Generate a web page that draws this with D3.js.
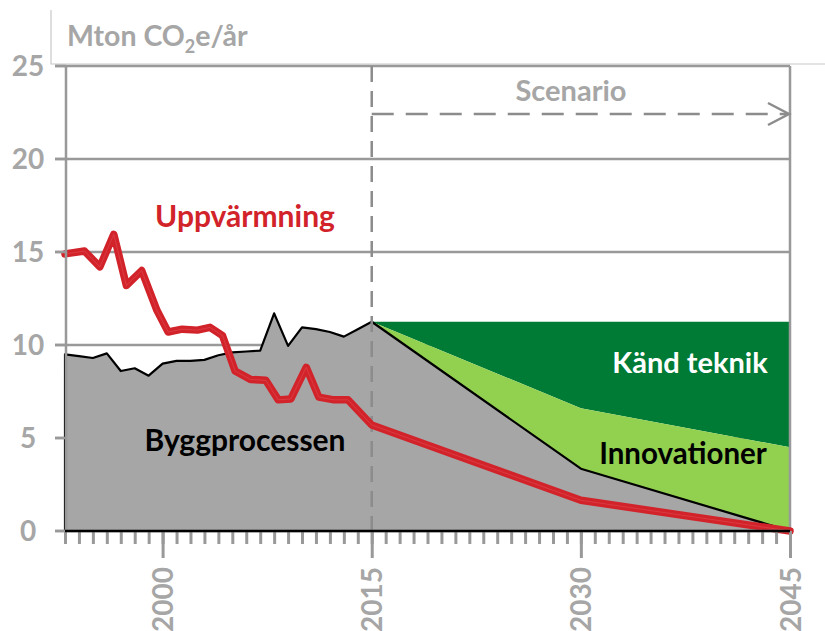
<!DOCTYPE html>
<html>
<head>
<meta charset="utf-8">
<script src="https://cdn.jsdelivr.net/npm/d3@7"></script>
<style>
body { margin: 0; background: #fff; }
text { font-family: Lato, "Open Sans", sans-serif; font-weight: bold; }
</style>
</head>
<body>
<div id="chart"></div>
<script>
// historic construction emissions (Byggprocessen), Mton CO2e
const histYears = [1993, 1994, 1995, 1996, 1997, 1998, 1999, 2000, 2001, 2002, 2003, 2004,
    2005, 2006, 2007, 2008, 2009, 2010, 2011, 2012, 2013, 2014, 2015]
const byggHist = [9.5, 9.4, 9.3, 9.55, 8.6, 8.75, 8.35, 9.0, 9.15, 9.15, 9.2, 9.45,
    9.6, 9.65, 9.7, 11.7, 9.95, 10.95, 10.85, 10.7, 10.45, 10.85, 11.25]

// scenario part
const scenYears = [2015, 2030, 2045]
const byggScen = [11.25, 3.35, 0]
const innovTop = [11.25, 6.6, 4.5]
const kandTop = [11.25, 11.25, 11.25]

// heating line (Uppvärmning)
const redYears = [1993, 1994.4, 1995.5, 1996.5, 1997.4, 1998.5, 1999.6, 2000.4, 2001.4, 2002.5,
    2003.4, 2004.3, 2005.2, 2006.3, 2007.4, 2008.3, 2009.2, 2010.3, 2011.2, 2012.3, 2013.3,
    2015, 2030, 2045]
const redValues = [14.9, 15.05, 14.2, 15.95, 13.2, 14.0, 11.85, 10.7, 10.85, 10.8,
    10.95, 10.5, 8.6, 8.15, 8.1, 7.05, 7.1, 8.8, 7.2, 7.05, 7.05,
    5.7, 1.65, 0]

const yTicks = [0, 5, 10, 15, 20, 25]
const majorYears = [2000, 2015, 2030, 2045]
const minorYears = [1993, 1994, 1995, 1996, 1997, 1998, 1999, 2000, 2001, 2002, 2003, 2004, 2005,
    2006, 2007, 2008, 2009, 2010, 2011, 2012, 2013, 2014, 2015, 2016, 2017, 2018, 2019, 2020,
    2021, 2022, 2023, 2024, 2025, 2026, 2027, 2028, 2029, 2030, 2031, 2032, 2033, 2034, 2035,
    2036, 2037, 2038, 2039, 2040, 2041, 2042, 2043, 2044, 2045]

const width = 825, height = 631
const greyText = "#a6a6a6", gridCol = "#999999"

const svg = d3.select("#chart").append("svg")
    .attr("width", width).attr("height", height)

const x = d3.scaleLinear().domain([1993, 2045]).range([65, 790])
const y = d3.scaleLinear().domain([0, 25]).range([531, 66])

// title box lines
svg.append("path").attr("d", "M51,10 V64 H825")
    .attr("fill", "none").attr("stroke", "#c8c8c8").attr("stroke-width", 1.2)

// gridlines
svg.append("g").selectAll("line").data(yTicks.filter(d => d > 0)).join("line")
    .attr("x1", 55).attr("x2", x(2045))
    .attr("y1", d => y(d)).attr("y2", d => y(d))
    .attr("stroke", gridCol).attr("stroke-width", 2.5)

// areas
const bygg = histYears.map((d, i) => [d, byggHist[i]])
    .concat(scenYears.slice(1).map((d, i) => [d, byggScen[i + 1]]))

svg.append("path").datum(scenYears.map((d, i) => [d, kandTop[i], innovTop[i]]))
    .attr("fill", "#007b36")
    .attr("d", d3.area().x(d => x(d[0])).y0(d => y(d[2])).y1(d => y(d[1])))

svg.append("path").datum(scenYears.map((d, i) => [d, innovTop[i], byggScen[i]]))
    .attr("fill", "#92d050")
    .attr("d", d3.area().x(d => x(d[0])).y0(d => y(d[2])).y1(d => y(d[1])))

svg.append("path").datum(bygg)
    .attr("fill", "#a6a6a6").attr("stroke", "#000").attr("stroke-width", 2.2)
    .attr("stroke-linejoin", "round")
    .attr("d", d3.area().x(d => x(d[0])).y0(y(0)).y1(d => y(d[1])))

// right frame
svg.append("line").attr("x1", x(2045)).attr("x2", x(2045)).attr("y1", y(25)).attr("y2", y(0))
    .attr("stroke", gridCol).attr("stroke-width", 2.5)

// 2015 dashed divider + scenario arrow
svg.append("line").attr("x1", x(2015)).attr("x2", x(2015)).attr("y1", y(25)).attr("y2", y(0))
    .attr("stroke", "#8c8c8c").attr("stroke-width", 2.5).attr("stroke-dasharray", "16,9")
svg.append("line").attr("x1", x(2015)).attr("x2", x(2045) - 2).attr("y1", 114).attr("y2", 114)
    .attr("stroke", "#8c8c8c").attr("stroke-width", 2.5).attr("stroke-dasharray", "22,12")
svg.append("path").attr("d", `M${x(2045) - 22},103 L${x(2045) - 1},114 L${x(2045) - 22},125`)
    .attr("fill", "none").attr("stroke", "#8c8c8c").attr("stroke-width", 2.5)
svg.append("text").attr("x", 571).attr("y", 101).attr("text-anchor", "middle")
    .attr("fill", greyText).attr("font-size", 29).text("Scenario")

// red heating line
const redLine = d3.line().x((d, i) => x(redYears[i])).y(d => y(d))
svg.append("path").datum(redValues).attr("d", redLine)
    .attr("fill", "none").attr("stroke", "#d2232a").attr("stroke-width", 7.5)
    .attr("stroke-linejoin", "round").attr("stroke-linecap", "round")
svg.append("path").datum(redValues).attr("d", redLine)
    .attr("fill", "none").attr("stroke", "#e8686c").attr("stroke-width", 1)
    .attr("stroke-linejoin", "round").attr("opacity", 0.35)

// left axis
svg.append("line").attr("x1", 66).attr("x2", 66).attr("y1", y(25)).attr("y2", y(0))
    .attr("stroke", gridCol).attr("stroke-width", 2.5)
svg.append("g").selectAll("line").data(yTicks).join("line")
    .attr("x1", 55).attr("x2", 66).attr("y1", d => y(d)).attr("y2", d => y(d))
    .attr("stroke", gridCol).attr("stroke-width", 2.5)
svg.append("g").selectAll("text").data(yTicks).join("text")
    .attr("x", 28).attr("y", d => y(d)).attr("dy", "0.36em").attr("text-anchor", "middle")
    .attr("fill", greyText).attr("font-size", 28).text(d => d)

// bottom axis: yearly minor ticks, labelled major ticks
const minorAxis = d3.axisBottom(x).tickValues(minorYears).tickSize(13).tickFormat("")
const gMinor = svg.append("g").attr("transform", `translate(0,${y(0)})`).call(minorAxis)
gMinor.select(".domain").remove()
gMinor.selectAll(".tick line").attr("stroke", gridCol).attr("stroke-width", 3)

const majorAxis = d3.axisBottom(x).tickValues(majorYears).tickSize(27).tickFormat(d3.format("d"))
const gMajor = svg.append("g").attr("transform", `translate(0,${y(0)})`).call(majorAxis)
gMajor.select(".domain").remove()
gMajor.selectAll(".tick line").attr("stroke", gridCol).attr("stroke-width", 3)
gMajor.selectAll(".tick text")
    .attr("transform", "rotate(-90)").attr("x", -36).attr("y", 0).attr("dy", "0.36em")
    .attr("text-anchor", "end").attr("fill", greyText).attr("font-size", 28)
    .attr("font-family", "Lato, sans-serif")

svg.append("line").attr("x1", 55).attr("x2", x(2045)).attr("y1", y(0)).attr("y2", y(0))
    .attr("stroke", gridCol).attr("stroke-width", 2.5)
svg.append("line").attr("x1", 65).attr("x2", x(2045)).attr("y1", y(0)).attr("y2", y(0))
    .attr("stroke", "#000").attr("stroke-width", 2.5)

// title
const title = svg.append("text").attr("x", 67).attr("y", 46).attr("fill", greyText).attr("font-size", 28.5)
title.append("tspan").text("Mton CO")
title.append("tspan").attr("font-size", 18).attr("dy", 7).text("2")
title.append("tspan").attr("dy", -7).text("e/år")

// series labels
svg.append("text").attr("x", 245).attr("y", 227).attr("text-anchor", "middle")
    .attr("fill", "#d2232a").attr("font-size", 30).text("Uppvärmning")
svg.append("text").attr("x", 245).attr("y", 451).attr("text-anchor", "middle")
    .attr("fill", "#000").attr("font-size", 30).text("Byggprocessen")
svg.append("text").attr("x", 690).attr("y", 373).attr("text-anchor", "middle")
    .attr("fill", "#fff").attr("font-size", 29).text("Känd teknik")
svg.append("text").attr("x", 683).attr("y", 464).attr("text-anchor", "middle")
    .attr("fill", "#000").attr("font-size", 29.5).text("Innovationer")
</script>
</body>
</html>
